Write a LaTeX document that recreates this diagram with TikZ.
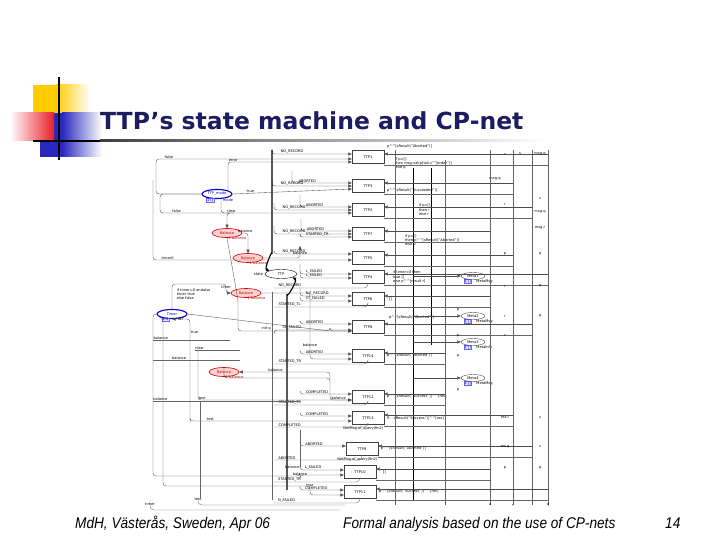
\documentclass[tikz,border=0pt]{standalone}
\usepackage{fontspec}
\setmainfont{DejaVu Sans}
\newfontfamily\footfont[FakeStretch=0.88]{Liberation Sans}
\usetikzlibrary{arrows.meta,positioning,shapes.geometric}
\definecolor{titleblue}{RGB}{28,28,96}
\definecolor{logogold}{RGB}{255,204,0}
\definecolor{logored}{RGB}{232,30,40}
\definecolor{logoblue}{RGB}{40,40,190}
\newcommand\pcat{\textasciicircum\textasciicircum}
\tikzset{
  tiny/.style={font=\fontsize{3.6}{4.2}\selectfont},
  trans/.style={draw=black!75, line width=0.4pt, minimum width=32pt, minimum height=13pt, inner sep=0pt, tiny},
  place/.style={ellipse, draw, minimum width=30pt, minimum height=9pt, inner sep=0pt, tiny},
  redplace/.style={place, draw=red!85!black, fill=red!18, text=red!75!black, line width=0.6pt},
  blueplace/.style={place, draw=blue!80!black, line width=1.1pt, text=blue!70!black},
  msgplace/.style={place, minimum width=24pt, minimum height=7pt, draw=black!70},
  arc/.style={draw=black!70, line width=0.35pt, rounded corners=3pt, -{Triangle[length=3.5pt,width=3pt]}},
  heavyarc/.style={arc, draw=black, line width=1.1pt},
  rail/.style={draw=black!60, line width=0.35pt, rounded corners=4pt},
  lbl/.style={tiny, inner sep=0.6pt},
  redlbl/.style={lbl, text=red!75!black},
  tag/.style={tiny, draw=blue!60, fill=blue!12, text=blue!70!black, inner sep=0.5pt},
}
\begin{document}
\begin{tikzpicture}[x=1pt,y=-1pt]
  \useasboundingbox (0,0) rectangle (720,540);
  \fill[white] (0,0) rectangle (720,540);
  % ---- logo
  \fill[logogold] (33,85) rectangle (56,113);
  \shade[left color=logogold, right color=white] (56,85) rectangle (90,113);
  \fill[logoblue] (40,113) rectangle (62,157);
  \shade[left color=logoblue, right color=white] (62,113) rectangle (102,157);
  \shade[left color=white, right color=logored] (10,113) rectangle (54,141);
  \draw[line width=2.6pt] (59,77) -- (59,160);
  \draw[line width=2.2pt] (33,141) -- (100,141);
  \shade[left color=black!75, right color=white] (100,140) rectangle (545,142);
  % ---- title and footer
  \node[anchor=base west, inner sep=0pt, text=titleblue, font=\fontsize{23.5}{28}\selectfont\bfseries] (title) at (100,130) {TTP’s state machine and CP-net};
  \node[anchor=base west, inner sep=0pt, font=\footfont\itshape\fontsize{15.5}{18}\selectfont] (place) at (75,528) {MdH, Västerås, Sweden, Apr 06};
  \node[anchor=base west, inner sep=0pt, font=\footfont\itshape\fontsize{15.5}{18}\selectfont] (topic) at (343,528) {Formal analysis based on the use of CP-nets};
  \node[anchor=base west, inner sep=0pt, font=\footfont\itshape\fontsize{15.5}{18}\selectfont] (page) at (665,528) {14};

  % ---- transitions
  \foreach \n/\y in {1/157,3/186,2/210,7/234,5/258,4/277,6/299,8/327,14/356,12/397,13/418}
    \node[trans] (ttp\n) at (368,\y) {TTP\n};
  \foreach \n/\x/\y in {9/362/449,10/360/472,11/360/492}
    \node[trans] (ttp\n) at (\x,\y) {TTP\n};

  % ---- places
  \node[place, minimum width=32pt] (ttp) at (281,274) {TTP};
  \node[lbl, left=1pt of ttp] (ttpstate) {state};
  \node[blueplace] (mode) at (217,194) {TTP\_mode};
  \node[tag, below left=0pt and -8pt of mode] (modetag) {1`()};
  \node[lbl, text=blue!70!black, below right=0pt and -6pt of mode] (modelbl) {mode};
  \node[blueplace] (timer) at (172,314) {Timer};
  \node[tag, below left=0pt and -8pt of timer] (timertag) {1`0};
  \node[lbl, below right=0pt and -6pt of timer] (timerlbl) {INT};
  \foreach \r/\x/\y in {1/227/233,2/248/258,3/246/293,4/224/372}{
    \node[redplace] (bal\r) at (\x,\y) {Balance};
    \node[redlbl, below right=0pt and -10pt of bal\r] (bal\r lbl) {1`balance};
  }
  \foreach \m/\y/\t in {1/276/MetaMsg,2/316/MetaMsg,3/342/MetaInfo,4/378/MetaMsg}{
    \node[msgplace] (msg\m) at (473,\y) {Meta\m};
    \node[tag, below left=0pt and -7pt of msg\m] (msg\m tag) {1`[]};
    \node[lbl, below right=0pt and -6pt of msg\m] (msg\m lbl) {\t};
  }

  % ---- state arcs into the transitions
  \foreach \t/\sx/\sy/\dy/\l in {
      1/272/149/3/NO\_RECORD,
      3/292/171/3/ABORTED, 3/272/179/0/NO\_RECORD,
      2/300/195/3/ABORTED, 2/274/203/0/NO\_RECORD,
      7/301/219/3/ABORTED, 7/274/226/0/NO\_RECORD, 7/300/237/-3/STARTED\_TR,
      5/274/251/4/NO\_RECORD,
      4/300/264/3/L\_FAILED, 4/300/272/-1/L\_FAILED,
      6/300/287/3/NO\_RECORD, 6/300/296/-2/ST\_FAILED,
      8/300/322/3/ABORTED, 8/274/334/-3/SP\_FAILED,
      14/300/352/2/ABORTED,
      12/300/391/3/COMPLETED,
      13/300/413/2/COMPLETED,
      9/300/441/3/ABORTED,
      10/300/468/2/L\_FAILED,
      11/300/488/2/COMPLETED}
  {
    \coordinate (src) at (\sx,\sy);
    \draw[arc] (src) |- ([yshift=\dy pt]ttp\t.west) node[lbl, pos=0.55, anchor=south west] {\l};
  }
  % ---- state arcs back to TTP
  \foreach \t/\y/\l in {4/288/NO\_RECORD, 6/307/STARTED\_TL, 14/364/STARTED\_TR, 12/405/STARTED\_TR,
      13/427/COMPLETED, 9/460/ABORTED, 10/482/STARTED\_TR, 11/503/N\_FAILED}
  {
    \coordinate (dst) at (274,\y);
    \draw[rail] (ttp\t.south) |- (dst) node[lbl, pos=0.98, anchor=south west] {\l};
  }
  \draw[heavyarc] (272,150) -- (272,256) to[out=90,in=160] (ttp.north west);
  \draw[heavyarc] (287,490) -- (287,292) to[out=-90,in=-30] (ttp.south east);
  \draw[rail] (272,292) -- (272,500);

  % ---- mode and balance places
  \draw[arc] (mode.west) -| (156,170) |- ([yshift=-2pt]ttp1.west) node[lbl, pos=0.52, anchor=south west] {false};
  \draw[arc] (mode.north east) |- ([yshift=-5pt]ttp1.west) node[lbl, pos=0.5, anchor=south west] {error};
  \draw[arc] (mode.east) -- ([yshift=-3pt]ttp3.west) node[lbl, pos=0.15, above] {true};
  \draw[arc] (mode.west) -- (160,194) |- ([yshift=-3pt]ttp2.west) node[lbl, pos=0.53, anchor=south west] {false};
  \draw[arc] (153,180) |- ([yshift=-2pt]ttp5.west) node[lbl, pos=0.52, anchor=south west] {timer0};
  \draw[arc] ([xshift=4pt]mode.south) |- (236,213) -| (bal1.north) node[lbl, pos=0.25, above] {clear};
  \draw[arc] (bal1.east) -| (bal2.north) node[lbl, pos=0.25, above] {balance};
  \draw[arc] (bal1.south) -- (238,300) |- ([yshift=-4pt]ttp8.west) node[lbl, pos=0.6, anchor=south west] {init q};
  \draw[arc] (bal2.east) -| (300,246) node[lbl, pos=0.6, above] {balance};
  \draw[arc] (timer.north) |- (226,284) |- (bal3.west) node[lbl, pos=0.3, above] {timer};
  \node[lbl, align=left, anchor=north west] (timercond) at (176,288) {if timer=0 andalso\\timer true\\else false};
  \draw[arc] (190,345) |- (timer.south) node[lbl, pos=0.2, above right] {true};
  \draw[arc] (timer.east) -- ([yshift=-4pt]ttp8.west -| 330,0) |- ([yshift=-4pt]ttp8.west);
  \draw[arc] (bal3.east) -| (310,340) |- ([yshift=-3pt]ttp14.west) node[lbl, pos=0.2, above] {balance};
  \draw[arc] (330,380) |- (bal4.east) node[lbl, pos=0.8, above] {balance};
  \draw[arc] (bal4.north) |- (330,378) |- ([yshift=-3pt]ttp12.west) node[lbl, pos=0.7, above] {balance};
  \draw[arc] (timer.west) -| (153,476) -- (300,476) |- ([yshift=-3pt]ttp10.west) node[lbl, pos=0.05, above] {balance};
  \draw[arc] (timer.south west) -| (163,486) -- (310,486) |- ([yshift=-3pt]ttp11.west) node[lbl, pos=0.1, above] {true};
  \draw[arc] (190,345) -- (190,420) |- ([yshift=-3pt]ttp13.west) node[lbl, pos=0.55, anchor=south west] {test};
  \draw[arc] (198,350) |- ([yshift=-3pt]ttp12.west) node[lbl, pos=0.5, anchor=south west] {test};
  \draw[rail] (198,498) |- (345,505) node[lbl, pos=0.25, above] {test};
  \draw[rail] (150,500) |- (340,510) node[lbl, pos=0.1, below] {timer};
  \draw[rail] (153,340) -- (230,340) node[lbl, pos=0.1, above] {balance};
  \draw[rail] (153,360) -- (240,360) node[lbl, pos=0.3, above] {balance};
  \draw[rail] (195,350) -- (240,350) node[lbl, pos=0.1, above] {clear};
  \draw[rail] (153,401) -- (300,401) node[lbl, pos=0.05, above] {balance};
  \draw[rail] (200,401) -- (200,498);
  \draw[rail] (300,430) -- (300,467) node[lbl, pos=1, left] {balance};

  % ---- guards and output expressions
  \node[lbl, align=left, anchor=south west] (g1) at ([xshift=2pt,yshift=1pt]ttp1.north east) {p\pcat[sResult("Aborted")]};
  \node[lbl, align=left, anchor=north west] (g1b) at ([xshift=10pt]ttp1.east) {if p=[]\\then msg.val(p[tail.c""]order")]\\else p};
  \node[lbl, anchor=south west] (g3) at ([xshift=2pt]ttp3.south east) {p\pcat[sResult("Succeeded")]};
  \node[lbl, align=left, anchor=north west] (g2) at ([xshift=34pt]ttp2.north east) {if p=[]\\then r\\else r};
  \node[lbl, align=left, anchor=north west] (g7) at ([xshift=20pt]ttp7.east) {if p=[]\\then p\pcat[sResult("Aborted")]\\else p};
  \node[lbl, align=left, anchor=north west] (g4) at ([xshift=8pt]ttp4.north east) {if timer=0 then\\true []\\else p\pcat[result r]};
  \node[lbl, anchor=west] (g6) at ([xshift=4pt]ttp6.east) {[]};
  \node[lbl, anchor=south west] (g8) at ([xshift=4pt]ttp8.north east) {p\pcat[sResult("Aborted")]};
  \node[lbl, anchor=west] (g14) at ([xshift=2pt]ttp14.east) {p\pcat[sResult("Aborted")]};
  \node[lbl, anchor=west] (g12) at ([xshift=2pt]ttp12.east) {p\pcat[sResult("Success")]\pcat[res]};
  \node[lbl, anchor=west] (g13) at ([xshift=2pt]ttp13.east) {if \dots sResult("Success")]\pcat[res]};
  \node[lbl, anchor=west] (g9) at ([xshift=2pt]ttp9.east) {p\pcat[sResult("Aborted")]};
  \node[lbl, anchor=west] (g10) at ([xshift=6pt]ttp10.east) {[]};
  \node[lbl, anchor=west] (g11) at ([xshift=2pt]ttp11.east) {p\pcat[sResult("Success")]\pcat[res]};
  \node[lbl, anchor=north east] (q13) at ([yshift=-1pt]ttp13.south east) {NetMsg.of\_query(fin2)};
  \node[lbl, anchor=north east] (q9) at ([yshift=-1pt]ttp9.south east) {NetMsg.of\_query(fin2)};

  % ---- rails on the right
  \foreach \x/\top/\bot in {395/150/505,445/160/505,490/150/505,513/150/505,532/150/505,548/150/505}
    \draw[rail] (\x,\top) -- (\x,\bot);
  \draw[line width=0.9pt] (413,168) -- (413,500);
  \draw[line width=0.9pt] (431,168) -- (431,345);
  \foreach \t/\r in {1/548,3/513,2/532,7/490,5/513,4/548,6/490,8/532,14/445,12/445,13/513,9/532,10/490,11/548}
  {
    \coordinate (rr) at (\r,0);
    \draw[rail] ([yshift=-1pt]ttp\t.south east) -- ([yshift=-1pt]ttp\t.south east -| rr);
    \draw[arc] ([yshift=3pt]ttp\t.east -| rr) -- ([yshift=3pt]ttp\t.east);
  }
  \foreach \m in {1,2,3,4}
    \draw[arc] (msg\m.west -| 413,0) -- (msg\m.west);
  \foreach \x/\y/\l in {505/154/r, 520/154/s, 540/154/msg.q, 495/179/msg.q, 505/204/r, 540/199/s, 540/212/msg.q,
      540/228/msg.r, 505/254/p, 540/254/q, 505/286/r, 540/286/q, 505/316/r, 540/316/q, 505/335/r,
      458/310/p, 458/336/p, 458/356/p, 458/390/p, 505/418/res.r, 540/418/s, 505/447/res.q, 540/447/s,
      505/468/p, 540/468/q, 490/505/u, 513/505/r, 548/505/q}
    \node[lbl] at (\x,\y) {\l};
\end{tikzpicture}
\end{document}
